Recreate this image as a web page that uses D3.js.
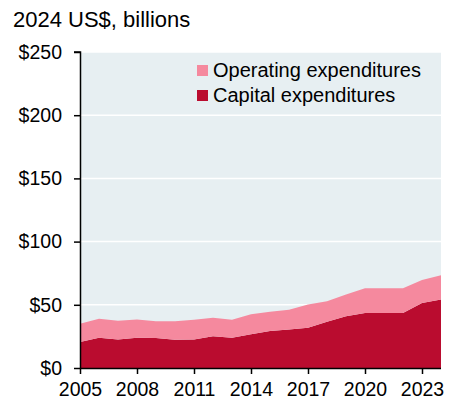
<!DOCTYPE html>
<html>
<head>
<meta charset="utf-8">
<script src="https://cdn.jsdelivr.net/npm/d3@7"></script>
<style>
  html, body { margin: 0; padding: 0; background: #fff; }
  svg { display: block; font-family: "Liberation Sans", Arial, sans-serif; }
</style>
</head>
<body>
<svg id="chart" width="451" height="402"></svg>
<script>
const years = [2005,2006,2007,2008,2009,2010,2011,2012,2013,2014,2015,2016,2017,2018,2019,2020,2021,2022,2023,2024];
const capitalExpenditures = [20.5,23.9,22.6,23.9,23.7,22.3,22.6,25.2,23.9,26.8,29.2,30.5,31.8,36.5,41.0,43.6,43.6,43.6,51.5,54.2];
const operatingExpenditures = [14.5,15.0,14.7,14.5,13.3,14.7,15.5,14.5,14.2,15.8,15.4,15.5,18.4,16.3,17.1,19.5,19.5,19.5,18.1,19.1];
const xTicks = [2005,2008,2011,2014,2017,2020,2023];
const yTicks = [0,50,100,150,200,250];
const seriesNames = ["Capital expenditures","Operating expenditures"];
const colors = {"Capital expenditures":"#ba0c2f","Operating expenditures":"#f5899e"};
const subtitle = "2024 US$, billions";

const svg = d3.select("#chart");
const m = {left:80, right:10, top:52, bottom:34};
const x = d3.scaleLinear().domain([2005,2024]).range([m.left, 441]);
const y = d3.scaleLinear().domain([0,250]).range([368, m.top]);

svg.append("text").attr("x",13).attr("y",27).attr("font-size",22).attr("fill","#000").text(subtitle);

svg.append("rect").attr("x",x(2005)).attr("y",y(250)).attr("width",x(2024)-x(2005)).attr("height",y(0)-y(250)).attr("fill","#e7eff2");

svg.append("g").selectAll("line").data(yTicks.filter(d=>d>0)).join("line")
  .attr("x1",x(2005)).attr("x2",x(2024)).attr("y1",d=>y(d)).attr("y2",d=>y(d))
  .attr("stroke","#fff").attr("stroke-width",1.5);

const table = years.map((yr,i)=>({year:yr, "Capital expenditures":capitalExpenditures[i], "Operating expenditures":operatingExpenditures[i]}));
const stacked = d3.stack().keys(seriesNames)(table);
const area = d3.area().x(d=>x(d.data.year)).y0(d=>y(d[0])).y1(d=>y(d[1]));
svg.append("g").selectAll("path").data(stacked).join("path")
  .attr("d",area).attr("fill",d=>colors[d.key]);

const yAxis = svg.append("g").attr("transform",`translate(${m.left},0)`)
  .call(d3.axisLeft(y).tickValues(yTicks).tickFormat(d=>"$"+d).tickSize(6).tickPadding(12));
const xAxis = svg.append("g").attr("transform",`translate(0,${y(0)})`)
  .call(d3.axisBottom(x).tickValues(xTicks).tickFormat(d3.format("d")).tickSize(6).tickPadding(8));
[yAxis,xAxis].forEach(a=>{
  a.select(".domain").attr("stroke","#000").attr("stroke-width",1.5);
  a.selectAll(".tick line").attr("stroke","#000").attr("stroke-width",1.5);
  a.selectAll(".tick text").attr("font-size",19.5).attr("fill","#000").attr("font-family","Liberation Sans, Arial, sans-serif");
});
xAxis.select(".domain").attr("d",`M${x(2005)},0.5H${x(2024)}`);
yAxis.select(".domain").attr("d",`M-6,${y(250)}H0.5V${y(0)}`);

const legendItems = ["Operating expenditures","Capital expenditures"];
const lg = svg.append("g").attr("transform","translate(197,70)");
legendItems.forEach((k,i)=>{
  const g = lg.append("g").attr("transform",`translate(0,${i*25})`);
  g.append("rect").attr("x",0).attr("y",-5).attr("width",11).attr("height",11).attr("fill",colors[k]);
  g.append("text").attr("x",16).attr("y",0).attr("dy","0.35em").attr("font-size",20).attr("fill","#000").text(k);
});
</script>
</body>
</html>
